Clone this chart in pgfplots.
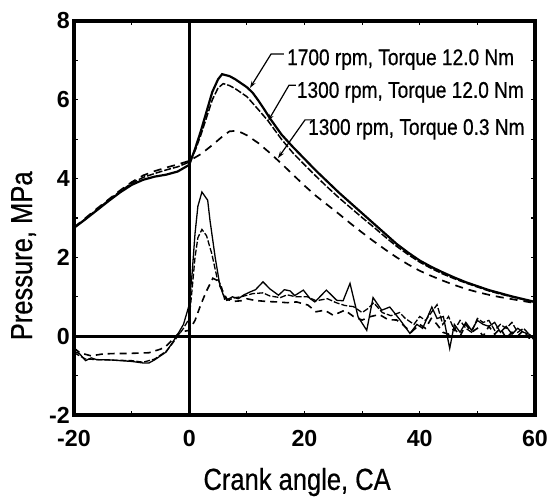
\documentclass[border=0pt]{standalone}
\usepackage{pgfplots}
\pgfplotsset{compat=1.18}
\usepackage{fontspec}
\setmainfont{Liberation Sans}[FakeStretch=0.84, FakeBold=0.6]
\newfontfamily\tickfont{Liberation Sans}
\usetikzlibrary{arrows.meta}

\begin{document}
\begin{tikzpicture}
\path[use as bounding box] (0,0) rectangle (550bp,499bp);
\begin{axis}[
  at={(74bp,84bp)}, anchor=south west,
  width=461bp, height=394bp, scale only axis,
  xmin=-20, xmax=60, ymin=-2, ymax=8,
  xtick={-20,0,20,40,60}, xticklabels={-20,0,20,40,60},
  minor xtick={-10,10,30,50},
  ytick={-2,0,2,4,6,8}, yticklabels={-2,0,2,4,6,8},
  minor ytick={-1,1,3,5,7},
  tick align=inside,
  major tick length=4bp, minor tick length=4bp,
  every tick/.style={black, line width=1.2bp},
  axis line style={line width=3.2bp},
  ticklabel style={font=\tickfont\bfseries\fontsize{23.3}{24}\selectfont, inner sep=0pt},
  xticklabel style={anchor=north, yshift=-15bp},
  yticklabel style={anchor=east, xshift=-4bp},
  xlabel={Crank angle, CA},
  ylabel={Pressure, MPa},
  label style={font=\fontsize{30.5}{32}\selectfont, inner sep=0pt},
  xlabel style={at={(axis description cs:0.484,-0.19)}, anchor=base},
  ylabel style={at={(axis description cs:-0.091,0.404)}, anchor=base},
  clip=true,
]
% reference lines through zero
\draw[line width=3bp] (axis cs:-20,0) -- (axis cs:60,0);
\draw[line width=3bp] (axis cs:0,-2) -- (axis cs:0,8);

% cylinder pressure, 1700 rpm, 12.0 Nm
\addplot[black, line width=2.2bp] coordinates {
  (-20,2.75) (-18,2.97) (-16,3.20) (-14,3.43) (-12,3.65) (-10,3.84)
  (-8,3.97) (-6,4.05) (-4,4.10) (-2,4.18) (0,4.35) (1,4.75) (2,5.2)
  (3,5.7) (4,6.2) (5,6.52) (5.7,6.65) (7,6.6) (8,6.52) (9,6.42)
  (10,6.32) (11,6.18) (12,5.98) (13,5.76) (14,5.53) (16,5.12)
  (18,4.80) (20,4.50) (22,4.20) (24,3.92) (26,3.64) (28,3.38)
  (30,3.12) (32,2.86) (34,2.60) (36,2.34) (38,2.12) (40,1.92)
  (42,1.76) (44,1.62) (46,1.49) (48,1.37) (50,1.27) (52,1.17)
  (54,1.09) (56,1.01) (58,0.94) (60,0.87)
};
% cylinder pressure, 1300 rpm, 12.0 Nm
\addplot[black, line width=1.5bp, dash pattern=on 7bp off 2bp] coordinates {
  (-20,2.75) (-18,2.98) (-16,3.22) (-14,3.45) (-12,3.68) (-10,3.88)
  (-8,4.03) (-6,4.13) (-4,4.22) (-2,4.30) (0,4.42) (1,4.70) (2,5.10)
  (3,5.55) (4,6.0) (5,6.3) (5.9,6.41) (7,6.36) (8,6.28) (10,6.08)
  (12,5.75) (13.7,5.46) (16,5.0) (18,4.65) (20,4.35) (22,4.06)
  (24,3.78) (26,3.51) (28,3.26) (30,3.01) (32,2.77) (34,2.52)
  (36,2.28) (38,2.07) (40,1.88) (42,1.72) (44,1.58) (46,1.46)
  (48,1.35) (50,1.25) (52,1.15) (54,1.07) (56,1.0) (58,0.93) (60,0.86)
};
% cylinder pressure, 1300 rpm, 0.3 Nm
\addplot[black, line width=1.7bp, dash pattern=on 8bp off 6bp] coordinates {
  (-20,2.76) (-18,3.0) (-16,3.24) (-14,3.47) (-12,3.7) (-10,3.91)
  (-8,4.08) (-6,4.19) (-4,4.28) (-2,4.36) (0,4.45) (2,4.62) (4,4.85)
  (6,5.1) (7,5.2) (8,5.21) (9,5.17) (10,5.1) (12,4.9) (14,4.65)
  (16,4.38) (18,4.1) (20,3.82) (22,3.56) (24,3.33) (26,3.1)
  (28,2.86) (30,2.63) (32,2.41) (34,2.2) (36,2.0) (38,1.82)
  (40,1.66) (42,1.53) (44,1.41) (46,1.3) (48,1.2) (50,1.12)
  (52,1.05) (54,0.99) (56,0.94) (58,0.89) (60,0.84)
};

% lower traces, 1700 rpm, 12.0 Nm
\addplot[black, line width=1.3bp] coordinates {
  (-20,-0.38) (-19,-0.45) (-18,-0.62) (-17,-0.55) (-16,-0.6) (-14,-0.6)
  (-12,-0.62) (-10,-0.64) (-8,-0.68) (-7,-0.68) (-6,-0.6) (-5,-0.5)
  (-4,-0.4) (-3,-0.18) (-2,0.05) (-1,0.3) (-0.5,0.55) (0,0.8)
  (0.5,1.6) (1,2.6) (1.5,3.3) (2.2,3.66) (3.2,3.45) (3.6,2.94)
  (4.5,2.0) (5.3,1.3) (5.9,1.05) (6.5,0.92) (7.5,1.0) (8.5,0.95)
  (9.5,1.05) (10.5,1.12) (11.5,1.18) (12.8,1.38) (14,1.2) (15.5,1.04)
  (16.5,1.18) (17.5,1.15) (18.3,1.03) (19.8,1.17) (21,0.95) (21.8,0.87)
  (23,1.05) (23.8,1.17) (25.6,0.91) (26.7,0.9) (27.9,1.34) (29.3,0.49)
  (30.8,0.15) (31.9,0.98) (33.4,0.66) (34.8,0.74) (36.6,0.41) (38.3,0.07)
  (39.5,0.3) (40.5,0.2) (42.1,0.74) (43,0.45) (44.1,0.5) (45.2,-0.31)
  (46,0.3) (47,0.1) (48,0.35) (49,0.15) (50,0.4) (51,0.3) (52,0.25)
  (53,0.35) (54,0.1) (55,0.25) (56,0.05) (57,0.2) (58,0.1) (59,0.05)
  (60,-0.12)
};
% lower traces, 1300 rpm, 12.0 Nm
\addplot[black, line width=1.3bp, dash pattern=on 6bp off 2bp] coordinates {
  (-20,-0.42) (-18,-0.58) (-15,-0.6) (-10,-0.62) (-8,-0.66) (-6,-0.58)
  (-4,-0.38) (-3,-0.2) (-2,0.0) (-1,0.2) (0,0.45) (0.5,1.2) (1,2.0)
  (1.5,2.5) (2.2,2.71) (3,2.55) (3.9,2.1) (4.8,1.5) (5.6,1.25)
  (6.2,0.9) (7,0.93) (8,0.98) (9,1.0) (10,1.04) (11,1.08) (12.8,1.1)
  (14,1.02) (15.8,0.98) (17,1.05) (18.5,1.0) (20.5,1.0) (22,0.9)
  (24,0.95) (25.5,0.85) (27,0.78) (28.5,0.75) (30,0.6) (31,0.7)
  (32,0.85) (33.5,0.6) (35,0.52) (36.5,0.6) (37.5,0.45) (39,0.3)
  (40,0.5) (41,0.4) (42,0.6) (43,0.8) (44,0.3) (45,0.5) (46,0.15)
  (47,0.4) (48,0.2) (49,0.1) (50,0.45) (51,0.35) (52,0.4) (53,0.15)
  (54,0.3) (55,0.2) (56,0.35) (57,0.1) (58,0.2) (59,0.05) (60,-0.1)
};
% lower traces, 1300 rpm, 0.3 Nm
\addplot[black, line width=1.6bp, dash pattern=on 7bp off 5bp] coordinates {
  (-20,-0.3) (-19,-0.42) (-17,-0.5) (-15,-0.45) (-13,-0.44) (-11,-0.44)
  (-9,-0.43) (-7,-0.42) (-5,-0.33) (-4,-0.25) (-3,-0.1) (-2,0.05)
  (-1,0.12) (0,0.15) (1,0.4) (2,0.8) (3,1.15) (4.1,1.47) (4.8,1.42)
  (5.6,1.2) (6.5,0.95) (7.5,0.88) (9,0.9) (10,0.95) (11,0.92) (12,0.9)
  (13.5,0.88) (15.2,0.87) (17,0.85) (18.6,0.87) (20.6,0.79) (22,0.62)
  (23.5,0.66) (25,0.53) (27,0.66) (28.5,0.5) (30,0.41) (31.5,0.5)
  (33,0.55) (34.5,0.42) (36,0.41) (37,0.3) (38.5,0.1) (40,0.3)
  (41,0.2) (42,0.45) (43,0.3) (44,0.1) (45,0.05) (46,0.2) (47,0.0)
  (48,0.3) (49,0.1) (50,0.2) (51,0.0) (52,0.25) (53,0.05) (54,0.2)
  (55,-0.05) (56,0.1) (57,0.0) (58,0.15) (59,-0.05) (60,-0.05)
};

% annotations
\begin{scope}[every node/.style={anchor=base west, inner sep=0pt,
    font=\fontsize{22.8}{24}\selectfont}]
\node at (axis cs:16.96,6.88) {1700 rpm, Torque 12.0 Nm};
\node at (axis cs:18.65,6.05) {1300 rpm, Torque 12.0 Nm};
\node at (axis cs:20.61,5.11) {1300 rpm, Torque 0.3 Nm};
\end{scope}
\begin{scope}[line width=1.2bp, -{Stealth[length=7bp,width=4.5bp]}]
\draw (axis cs:16.44,7.16) -- (axis cs:14.19,7.16) -- (axis cs:10.54,6.30);
\draw (axis cs:18.52,6.37) -- (axis cs:17.31,6.37) -- (axis cs:13.67,5.46);
\draw (axis cs:21.30,5.49) -- (axis cs:20.09,5.49) -- (axis cs:15.40,4.52);
\end{scope}
\end{axis}
\end{tikzpicture}
\end{document}
